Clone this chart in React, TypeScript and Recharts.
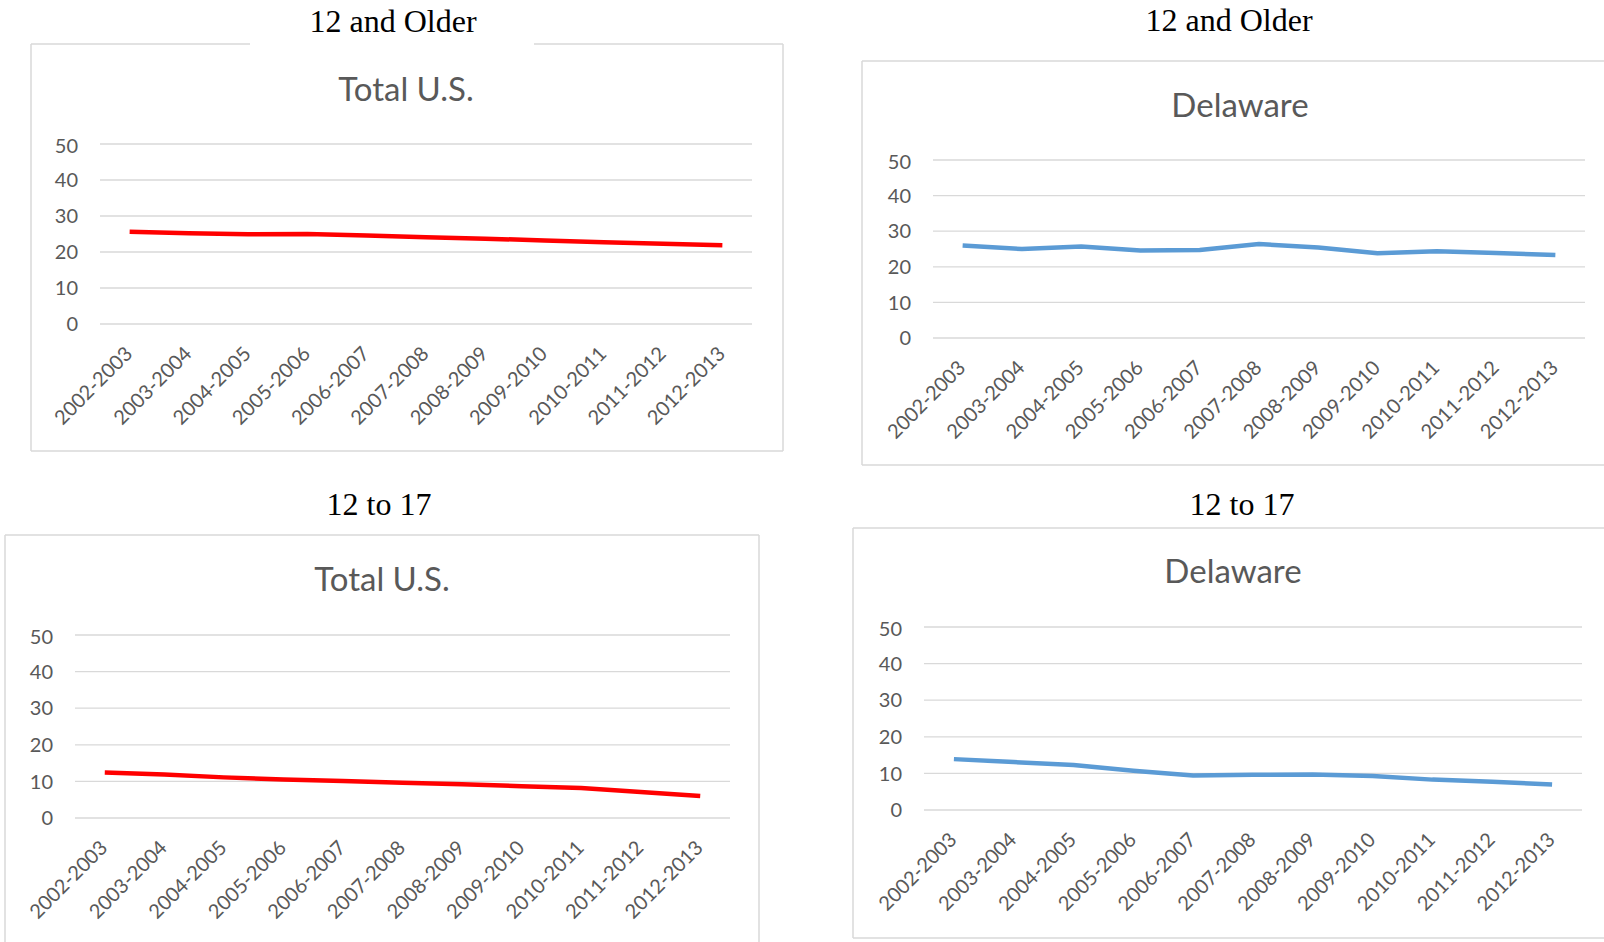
import { CartesianGrid, Line, LineChart, XAxis, YAxis } from "recharts"

// Past month use, percent
const periods = [
  "2002-2003", "2003-2004", "2004-2005", "2005-2006", "2006-2007", "2007-2008",
  "2008-2009", "2009-2010", "2010-2011", "2011-2012", "2012-2013",
]
const usOlder = [25.6, 25.2, 24.9, 25.0, 24.6, 24.1, 23.7, 23.2, 22.7, 22.3, 21.9]
const deOlder = [26.0, 25.0, 25.7, 24.6, 24.7, 26.4, 25.4, 23.8, 24.4, 23.9, 23.3]
const usYouth = [12.4, 11.9, 11.1, 10.5, 10.1, 9.6, 9.2, 8.7, 8.2, 7.1, 6.0]
const deYouth = [13.9, 13.1, 12.3, 10.7, 9.4, 9.6, 9.7, 9.3, 8.3, 7.7, 7.0]
const yTicks = [0, 10, 20, 30, 40, 50]

const toRows = (values: number[]) => periods.map((p, i) => ({ period: p, value: values[i] }))

const GRAY = "#595959"
const GRID = "#d9d9d9"
const SANS = "Lato, 'Open Sans', sans-serif"

const panels = [
  {
    header: "12 and Older", title: "Total U.S.", values: usOlder, color: "#ff0000",
    frame: { left: 31, top: 44, right: 783, bottom: 451 }, gap: [250, 534],
    headerX: 393, headerY: 32, titleX: 406, titleY: 101,
    plot: { left: 100, top: 144, right: 752, bottom: 324 },
  },
  {
    header: "12 and Older", title: "Delaware", values: deOlder, color: "#5b9bd5",
    frame: { left: 862, top: 61, right: 1620, bottom: 465 }, gap: null,
    headerX: 1229, headerY: 31, titleX: 1240, titleY: 117,
    plot: { left: 933, top: 160, right: 1585, bottom: 338 },
  },
  {
    header: "12 to 17", title: "Total U.S.", values: usYouth, color: "#ff0000",
    frame: { left: 5, top: 535, right: 759, bottom: 960 }, gap: null,
    headerX: 379, headerY: 515, titleX: 382, titleY: 591,
    plot: { left: 75, top: 635, right: 730, bottom: 818 },
  },
  {
    header: "12 to 17", title: "Delaware", values: deYouth, color: "#5b9bd5",
    frame: { left: 853, top: 528, right: 1620, bottom: 938 }, gap: null,
    headerX: 1242, headerY: 515, titleX: 1233, titleY: 583,
    plot: { left: 924, top: 627, right: 1582, bottom: 810 },
  },
]

const XTick = (props: any) => {
  const { x, y, payload } = props
  return (
    <g transform={`translate(${x + 4},${y + 31})`}>
      <text textAnchor="end" transform="rotate(-45)" fill={GRAY} fontSize={20} fontFamily={SANS}>
        {payload.value}
      </text>
    </g>
  )
}

const Panel = ({ p }: { p: (typeof panels)[number] }) => {
  const plotW = p.plot.right - p.plot.left
  const plotH = p.plot.bottom - p.plot.top
  const pad = plotW / 22
  return (
    <div style={{ position: "absolute", left: p.plot.left - 80, top: p.plot.top - 10 }}>
      <LineChart
        width={plotW + 100}
        height={plotH + 140}
        data={toRows(p.values)}
        margin={{ top: 10, right: 20, bottom: 0, left: 0 }}
      >
        <CartesianGrid vertical={false} stroke={GRID} strokeWidth={1.3} />
        <XAxis
          dataKey="period"
          height={130}
          axisLine={false}
          tickLine={false}
          tickSize={0}
          tickMargin={0}
          interval={0}
          padding={{ left: pad, right: pad }}
          tick={(t: any) => <XTick {...t} />}
        />
        <YAxis
          width={80}
          domain={[0, 50]}
          ticks={yTicks}
          axisLine={false}
          tickLine={false}
          tickSize={0}
          tickMargin={22}
          tick={{ fill: GRAY, fontSize: 20, fontFamily: SANS }}
        />
        <Line
          type="linear"
          dataKey="value"
          stroke={p.color}
          strokeWidth={4.5}
          strokeLinejoin="round"
          dot={false}
          activeDot={false}
          isAnimationActive={false}
        />
      </LineChart>
    </div>
  )
}

export default function App() {
  return (
    <div style={{ position: "absolute", left: 0, top: 0, width: 1604, height: 942, overflow: "hidden", background: "#fff" }}>
      <svg width={1604} height={942} style={{ position: "absolute", left: 0, top: 0 }}>
        {panels.map((p, i) => {
          const f = p.frame
          return (
            <g key={i}>
              <line x1={f.left} y1={f.top} x2={f.left} y2={f.bottom} stroke={GRID} strokeWidth={1.5} />
              <line x1={f.right} y1={f.top} x2={f.right} y2={f.bottom} stroke={GRID} strokeWidth={1.5} />
              <line x1={f.left} y1={f.bottom} x2={f.right} y2={f.bottom} stroke={GRID} strokeWidth={1.5} />
              {p.gap ? (
                <>
                  <line x1={f.left} y1={f.top} x2={p.gap[0]} y2={f.top} stroke={GRID} strokeWidth={1.5} />
                  <line x1={p.gap[1]} y1={f.top} x2={f.right} y2={f.top} stroke={GRID} strokeWidth={1.5} />
                </>
              ) : (
                <line x1={f.left} y1={f.top} x2={f.right} y2={f.top} stroke={GRID} strokeWidth={1.5} />
              )}
              <text x={p.headerX} y={p.headerY} textAnchor="middle" fontSize={32} fill="#000"
                fontFamily="'Liberation Serif', 'Times New Roman', serif">
                {p.header}
              </text>
              <text x={p.titleX} y={p.titleY} textAnchor="middle" fontSize={33} fill={GRAY} fontFamily={SANS}>
                {p.title}
              </text>
            </g>
          )
        })}
      </svg>
      {panels.map((p, i) => (
        <Panel key={i} p={p} />
      ))}
    </div>
  )
}
